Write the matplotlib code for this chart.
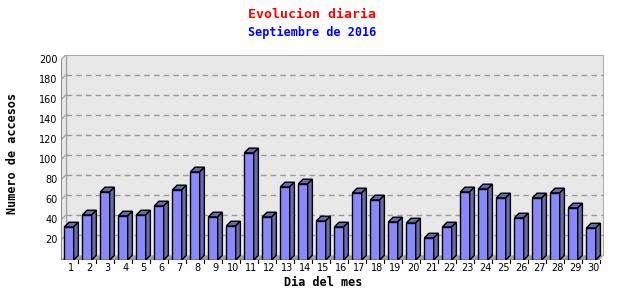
import matplotlib.pyplot as plt
from matplotlib.patches import Polygon

# daily visits, september 2016
days = list(range(1, 31))
visits = [33, 45, 68, 44, 45, 54, 70, 88, 43, 34,
          107, 43, 73, 76, 39, 33, 67, 60, 38, 37,
          22, 33, 68, 71, 62, 42, 62, 67, 52, 32]
yticks = [20, 40, 60, 80, 100, 120, 140, 160, 180, 200]

title = 'Evolucion diaria'
subtitle = 'Septiembre de 2016'
xlabel = 'Dia del mes'
ylabel = 'Numero de accesos'

front_col = '#8888ff'
side_col = '#6a6aa8'
wall_col = '#e8e8e8'
floor_col = '#a0a0a0'
edge_col = '#a0a0a0'
mono = 'DejaVu Sans Mono'

fig = plt.figure(figsize=(6.4, 3.0), dpi=100)
ax = fig.add_axes([61 / 640, 40 / 300, 543 / 640, 205 / 300])

# 3d depth in data units
dx = 0.26
dy = 4.7
w = 0.52
x0, x1 = 0.556, 30.72
ytop = 200 + dy
ax.set_xlim(x0, x1)
ax.set_ylim(0, ytop)

# back wall, left wall and floor
ax.add_patch(Polygon([(x0 + dx, dy), (x1, dy), (x1, ytop), (x0 + dx, ytop)],
                     closed=True, facecolor=wall_col, edgecolor='none', zorder=0))
ax.add_patch(Polygon([(x0, 0), (x0 + dx, dy), (x0 + dx, ytop), (x0, ytop - dy)],
                     closed=True, facecolor=wall_col, edgecolor='none', zorder=0))
ax.add_patch(Polygon([(x0, 0), (x1 - dx, 0), (x1, dy), (x0 + dx, dy)],
                     closed=True, facecolor=floor_col, edgecolor='none', zorder=0))
ax.plot([x0 + dx, x1, x1], [ytop, ytop, dy], color=edge_col, lw=1.2, zorder=1)
ax.plot([x0 + dx, x0 + dx], [dy, ytop], color=edge_col, lw=1, zorder=1)
ax.plot([x0, x0], [0, ytop - dy], color='#777777', lw=1.2, zorder=1)
ax.plot([x0, x1 - dx], [0, 0], color='#222222', lw=1, zorder=1)

# dashed gridlines on the back wall + slanted ticks on left wall
for t in yticks:
    if t < 200:
        ax.plot([x0 + dx, x1], [t + dy, t + dy], color='#999999', lw=1,
                ls=(0, (4, 3)), zorder=1)
    ax.plot([x0, x0 + dx], [t, t + dy], color='#999999', lw=0.8, zorder=1)
    ax.text(x0 - 0.2, t, str(t), ha='right', va='center', fontsize=7, color='black')

# bars
ax.bar(days, visits, width=w, color=front_col, edgecolor='black', lw=1, zorder=3)
for d, v in zip(days, visits):
    l, r = d - w / 2, d + w / 2
    ax.add_patch(Polygon([(l, v), (r, v), (r + dx, v + dy), (l + dx, v + dy)],
                         closed=True, facecolor=side_col, edgecolor='black', lw=1, zorder=3))
    ax.add_patch(Polygon([(r, 0), (r + dx, dy), (r + dx, v + dy), (r, v)],
                         closed=True, facecolor=side_col, edgecolor='black', lw=1, zorder=3))

# x ticks between bars
for d in days:
    ax.plot([d + 0.5, d + 0.5], [0, -3], color='black', lw=0.8, clip_on=False)
    ax.text(d + dx / 2, -8, str(d), ha='center', va='center', fontsize=7)

for s in ax.spines.values():
    s.set_visible(False)
ax.set_xticks([])
ax.set_yticks([])
ax.patch.set_visible(False)

fig.text(312 / 640, 1 - 14 / 300, title, ha='center', va='center', color='red',
         fontsize=9.5, fontweight='bold', family=mono)
fig.text(312 / 640, 1 - 32 / 300, subtitle, ha='center', va='center', color='blue',
         fontsize=8.5, fontweight='bold', family=mono)
fig.text(323 / 640, 1 - 282 / 300, xlabel, ha='center', va='center',
         fontsize=8.5, fontweight='bold', family=mono)
fig.text(13 / 640, 1 - 153 / 300, ylabel, ha='center', va='center', rotation=90,
         fontsize=8.5, fontweight='bold', family=mono)

fig.savefig('out.png', dpi=100)
